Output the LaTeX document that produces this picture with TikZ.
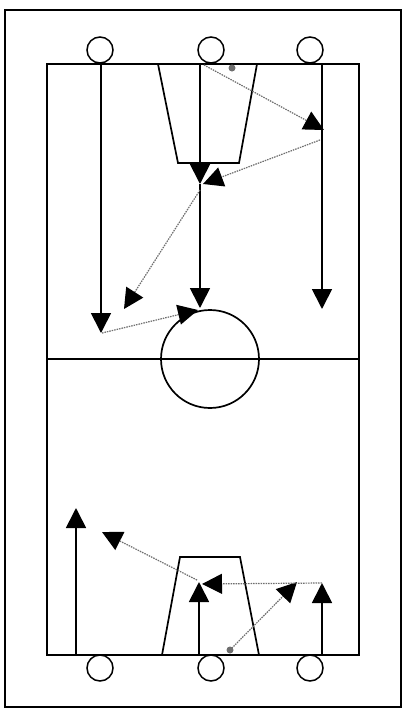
\documentclass[tikz,border=0pt]{standalone}
\usepackage{tikz}
\usetikzlibrary{arrows.meta}
\definecolor{PassGray}{RGB}{110,110,110}
\definecolor{BallGray}{RGB}{110,110,110}

\begin{document}
\begin{tikzpicture}[x=1pt,y=-1pt,
  court/.style={line width=1.7pt},
  run/.style={line width=1.7pt, -{Triangle[length=20pt,width=20pt]}},
  pass/.style={PassGray, line width=1.2pt, dash pattern=on 1.5pt off 1pt, -{Triangle[length=20pt,width=20pt,color=black]}},
  player/.style={line width=1.5pt, fill=white}]
\useasboundingbox (0,0) rectangle (405,710);
\draw[line width=1.8pt] (5,10) rectangle (401,707);
% Court
\draw[court] (47,64) rectangle (359,655);
\draw[court] (47,359) -- (359,359);
\draw[court] (210,359) circle (49pt);
\draw[court] (158,64) -- (178,163) -- (239,163) -- (257,64);
\draw[court] (162,655) -- (180,557) -- (240,557) -- (259,655);
% Positions
\coordinate (tL) at (101,63);   \coordinate (tLend) at (101,333);
\coordinate (tM) at (200,64);   \coordinate (tMkey) at (200,184);
\coordinate (tMend) at (200,308);
\coordinate (tR) at (322,64);   \coordinate (tRend) at (322,309);
\coordinate (tRcatch) at (324,130);
\coordinate (tBall) at (232,68);
\coordinate (bL) at (76,655);   \coordinate (bLend) at (76,508);
\coordinate (bM) at (199,655);  \coordinate (bMend) at (199,582);
\coordinate (bR) at (322,655);  \coordinate (bRend) at (322,583);
\coordinate (bBall) at (230,650);
% Top runs
\draw[run] (tL) -- (tLend);
\draw[run] (tM) -- (tMkey);
\draw[run] (tMkey) -- (tMend);
\draw[run] (tR) -- (tRend);
% Top passes
\draw[pass] (204,65) -- (tRcatch);
\draw[pass] (320,140) -- (203,184);
\draw[pass] (200,190) -- (124,309);
\draw[pass] (102,333) -- (198,310);
% Bottom runs
\draw[run] (bL) -- (bLend);
\draw[run] (bM) -- (bMend);
\draw[run] (bR) -- (bRend);
% Bottom passes
\draw[pass] (bBall) -- (297,582);
\draw[pass] (bRend) -- (202,584);
\draw[pass] (197,580) -- (102,532);
% Balls
\fill[BallGray] (tBall) circle (3.5pt);
\fill[BallGray] (bBall) circle (3.5pt);
% Players
\foreach \x in {100,211,310} {
  \draw[player] (\x,50) circle (13pt);
  \draw[player] (\x,668) circle (13pt);
}
\end{tikzpicture}
\end{document}
